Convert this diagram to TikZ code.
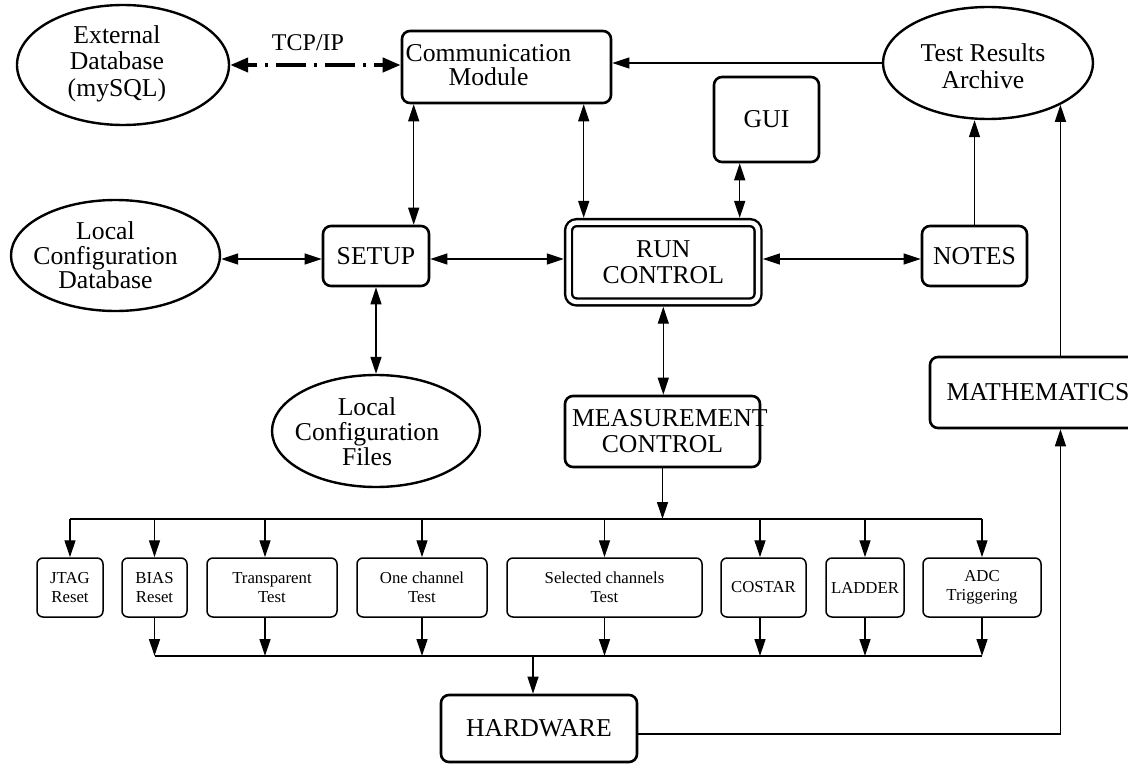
\documentclass[tikz,border=0pt]{standalone}
\usepackage{fontspec}
\setmainfont{Liberation Serif}
\usetikzlibrary{shapes.geometric,arrows.meta}
\begin{document}
\begin{tikzpicture}[x=1pt,y=-1pt,
  big/.style={font=\fontsize{25.7pt}{26pt}\selectfont, align=center},
  small/.style={font=\fontsize{16.75pt}{18.5pt}\selectfont, align=center},
  bbox/.style={draw, rounded corners=8pt, line width=2.6pt, inner sep=0pt, big},
  sbox/.style={draw, rounded corners=6pt, line width=1.5pt, inner sep=0pt, small, minimum height=59pt},
  oval/.style={draw, ellipse, line width=2.4pt, inner sep=0pt},
  conn/.style={line width=1.3pt},
  >={Triangle[length=17pt,width=11pt]},
  dashdot/.style={line width=4pt, dash pattern=on 3pt off 8pt on 30pt off 8pt, dash phase=-18pt,
    {Triangle[length=18pt,width=14pt]}-{Triangle[length=18pt,width=14pt]}}
]
\useasboundingbox (0,0) rectangle (1128,765);

% upper nodes
\node[oval, minimum width=212pt, minimum height=120pt,
  label={[big, xshift=-6pt, yshift=1.5pt, font=\fontsize{25.7pt}{26.5pt}\selectfont]center:External\\Database\\(mySQL)}] (extdb) at (123,65) {};
\node[font=\fontsize{24pt}{26pt}\selectfont] (tcp) at (308,43) {TCP/IP};
\node[bbox, minimum width=209pt, minimum height=72pt,
  label={[big, xshift=-18pt, yshift=2pt, font=\fontsize{25.7pt}{24.5pt}\selectfont]center:Communication\\Module}] (comm) at (506.5,67) {};
\node[oval, minimum width=210pt, minimum height=112pt,
  label={[big, xshift=-5pt, yshift=-3pt, font=\fontsize{25.7pt}{27pt}\selectfont]center:Test Results\\Archive}] (tra) at (988,63) {};
\node[bbox, minimum width=105pt, minimum height=85pt] (gui) at (766.5,119.5) {GUI};

% middle row
\node[oval, minimum width=209pt, minimum height=111pt,
  label={[big, xshift=-10pt, font=\fontsize{25.7pt}{24.5pt}\selectfont]center:Local\\Configuration\\Database}] (lcdb) at (115.5,255.5) {};
\node[bbox, minimum width=106pt, minimum height=60pt] (setup) at (376,256) {SETUP};
\node[bbox, line width=2.4pt, double, double distance=4.5pt, outer sep=4.75pt,
  minimum width=189.5pt, minimum height=79.3pt] (run) at (663.3,262.3) {RUN\\CONTROL};
\node[bbox, minimum width=105pt, minimum height=60pt] (notes) at (974.5,256) {NOTES};
\node[oval, minimum width=208pt, minimum height=112pt,
  label={[big, xshift=-9pt, yshift=-1pt, font=\fontsize{25.7pt}{25pt}\selectfont]center:Local\\Configuration\\Files}] (lcf) at (376,431) {};
\node[bbox, text width=181pt, minimum width=195pt, minimum height=71pt] (meas) at (662.5,431.5) {MEASUREMENT\\CONTROL};
\node[bbox, minimum width=216pt, minimum height=71pt] (math) at (1038,392.5) {MATHEMATICS};

% test boxes
\node[sbox, minimum width=66pt] (jtag) at (70,587.5) {JTAG\\Reset};
\node[sbox, minimum width=65pt] (bias) at (154.5,587.5) {BIAS\\Reset};
\node[sbox, minimum width=130pt] (transp) at (272,587.5) {Transparent\\Test};
\node[sbox, minimum width=130pt] (onech) at (422,587.5) {One channel\\Test};
\node[sbox, minimum width=195pt] (selch) at (604.5,587.5) {Selected channels\\Test};
\node[sbox, minimum width=85pt] (costar) at (763.5,587.5) {COSTAR};
\node[sbox, minimum width=78pt] (ladder) at (865,587.5) {LADDER};
\node[sbox, minimum width=118pt] (adc) at (982,587.5) {ADC\\Triggering};

\node[bbox, minimum width=196pt, minimum height=67pt] (hw) at (539,728.5) {HARDWARE};

% helper coordinates
\coordinate (row) at (0,259);
\coordinate (bt) at (663,519);
\coordinate (bb) at (533,656);
\coordinate (mx) at (tra.-30);

% top connectors
\draw[dashdot] (extdb.east) -- (extdb.east -| comm.west);
\draw[conn,->] (tra.west) -- (tra.west -| comm.east);
\draw[conn,<->] ([xshift=13pt]comm.south west) -- ([xshift=13pt]comm.south west |- setup.north);
\draw[conn,<->] ([xshift=183pt]comm.south west) -- ([xshift=183pt]comm.south west |- run.north);
\draw[conn,<->] ([xshift=27pt]gui.south west) -- ([xshift=27pt]gui.south west |- run.north);
\draw[conn,->] (notes.north) -- (notes.north |- tra.south);
\draw[conn,->] (math.north -| mx) -- (mx);

% row connectors
\draw[conn,<->] (lcdb.east |- row) -- (setup.west |- row);
\draw[conn,<->] (setup.east |- row) -- (run.west |- row);
\draw[conn,<->] (run.east |- row) -- (notes.west |- row);
\draw[conn,<->] (setup.south) -- (lcf.north);
\draw[conn,<->] (run.south) -- (run.south |- meas.north);

% distribution bus
\draw[conn] (jtag.north |- bt) -- (adc.north |- bt);
\draw[conn,->] (meas.south) -- (meas.south |- bt);
\draw[conn,->] (jtag.north |- bt) -- (jtag.north);
\draw[conn,->] (bias.north |- bt) -- (bias.north);
\draw[conn,->] ([xshift=-7pt]transp.north |- bt) -- ([xshift=-7pt]transp.north);
\draw[conn,->] (onech.north |- bt) -- (onech.north);
\draw[conn,->] (selch.north |- bt) -- (selch.north);
\draw[conn,->] ([xshift=-3.5pt]costar.north |- bt) -- ([xshift=-3.5pt]costar.north);
\draw[conn,->] (ladder.north |- bt) -- (ladder.north);
\draw[conn,->] (adc.north |- bt) -- (adc.north);

% collection bus
\draw[conn] (bias.south |- bb) -- (adc.south |- bb);
\draw[conn,->] (bias.south) -- (bias.south |- bb);
\draw[conn,->] ([xshift=-7pt]transp.south) -- ([xshift=-7pt]transp.south |- bb);
\draw[conn,->] (onech.south) -- (onech.south |- bb);
\draw[conn,->] (selch.south) -- (selch.south |- bb);
\draw[conn,->] ([xshift=-3.5pt]costar.south) -- ([xshift=-3.5pt]costar.south |- bb);
\draw[conn,->] (ladder.south) -- (ladder.south |- bb);
\draw[conn,->] (adc.south) -- (adc.south |- bb);
\draw[conn,->] (bb) -- (bb |- hw.north);

% hardware to mathematics
\draw[conn,->] ([yshift=-5.5pt]hw.east) -| (math.south -| mx);
\end{tikzpicture}
\end{document}
